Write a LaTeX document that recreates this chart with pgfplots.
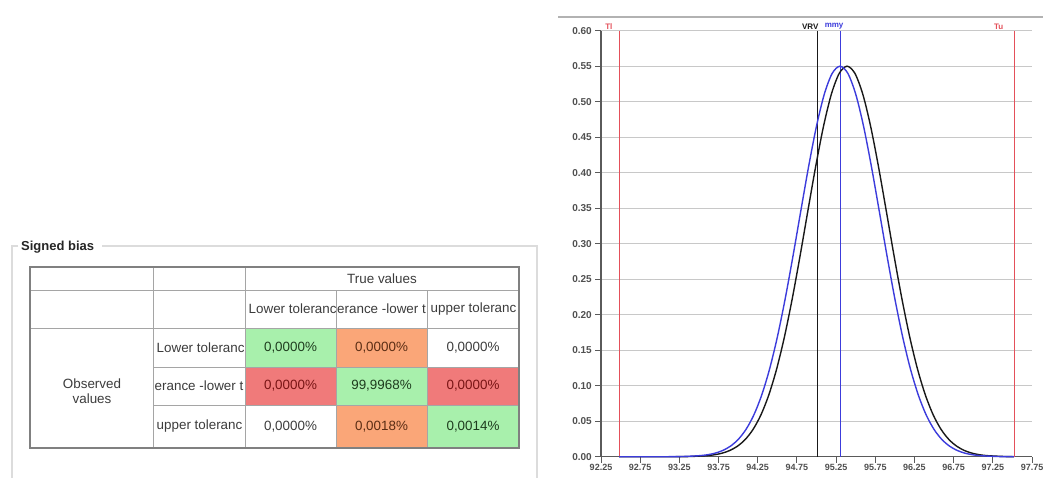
\documentclass[border=0pt]{standalone}
\usepackage{fontspec}
\setmainfont{Liberation Sans}
\usepackage{pgfplots}
\pgfplotsset{compat=1.18}

\definecolor{gridgray}{RGB}{200,200,200}
\definecolor{axisgray}{RGB}{90,90,90}
\definecolor{ticktext}{RGB}{80,80,80}
\definecolor{tolred}{RGB}{228,80,90}
\definecolor{curveblue}{RGB}{60,60,220}
\definecolor{curveblack}{RGB}{25,25,25}
\definecolor{cellgreen}{RGB}{168,240,172}
\definecolor{cellorange}{RGB}{250,166,120}
\definecolor{cellred}{RGB}{240,122,122}
\definecolor{txtgreen}{RGB}{30,60,30}
\definecolor{txtorange}{RGB}{90,45,20}
\definecolor{txtred}{RGB}{120,20,20}
\definecolor{txtgray}{RGB}{60,60,60}
\definecolor{tableline}{RGB}{165,165,165}
\definecolor{boxline}{RGB}{220,220,220}

\newcommand{\cellfont}{\fontsize{13.4}{15}\selectfont}

% filled table cell with centred, clipped text
\newcommand{\tcell}[7]{%
  \begin{scope}
    \fill[#5] (#1,#2) rectangle (#3,#4);
    \clip (#1,#2) rectangle (#3,#4);
    \node[text=#6, font=\cellfont, inner sep=0pt] at ({(#1+#3)/2},{(#2+#4)/2}) {#7};
  \end{scope}}
% table cell with left-aligned, clipped text
\newcommand{\lcell}[5]{%
  \begin{scope}
    \clip (#1,#2) rectangle (#3,#4);
    \node[text=txtgray, font=\cellfont, inner sep=0pt, anchor=west] at ({#1+3.5},{(#2+#4)/2}) {#5};
  \end{scope}}

% normal curve of the measured values (mean 95.30)
\pgfplotstableread{
x y
92.48 0
93.10 0
93.30 0.0003
93.50 0.0014
93.60 0.0026
93.70 0.0048
93.80 0.0086
93.90 0.0147
94.00 0.0242
94.10 0.0384
94.20 0.0587
94.30 0.0866
94.40 0.1230
94.50 0.1684
94.60 0.2223
94.70 0.2827
94.80 0.3464
94.90 0.4091
95.00 0.4657
95.10 0.5108
95.20 0.5399
95.30 0.5500
95.40 0.5399
95.50 0.5108
95.60 0.4657
95.70 0.4091
95.80 0.3464
95.90 0.2827
96.00 0.2223
96.10 0.1684
96.20 0.1230
96.30 0.0866
96.40 0.0587
96.50 0.0384
96.60 0.0242
96.70 0.0147
96.80 0.0086
96.90 0.0048
97.00 0.0026
97.10 0.0014
97.30 0.0003
97.50 0
97.52 0
}\bluecurve

% normal curve of the true values (mean 95.39)
\pgfplotstableread{
x y
92.48 0
93.19 0
93.39 0.0003
93.59 0.0014
93.69 0.0026
93.79 0.0048
93.89 0.0086
93.99 0.0147
94.09 0.0242
94.19 0.0384
94.29 0.0587
94.39 0.0866
94.49 0.1230
94.59 0.1684
94.69 0.2223
94.79 0.2827
94.89 0.3464
94.99 0.4091
95.09 0.4657
95.19 0.5108
95.29 0.5399
95.39 0.5500
95.49 0.5399
95.59 0.5108
95.69 0.4657
95.79 0.4091
95.89 0.3464
95.99 0.2827
96.09 0.2223
96.19 0.1684
96.29 0.1230
96.39 0.0866
96.49 0.0587
96.59 0.0384
96.69 0.0242
96.79 0.0147
96.89 0.0086
96.99 0.0048
97.09 0.0026
97.19 0.0014
97.39 0.0003
97.52 0
}\blackcurve

\begin{document}
\begin{tikzpicture}
\useasboundingbox (0,0) rectangle (1043pt,477pt);
\fill[white] (0,0) rectangle (1043pt,477pt);

% ---------- signed bias table (pixel grid, y downwards) ----------
\begin{scope}[yshift=477pt, x=1pt, y=-1pt]
  % group box
  \draw[boxline, line width=1.2pt] (18,246) -- (12,246) -- (12,478);
  \draw[boxline, line width=1.2pt] (102,246) -- (537,246) -- (537,478);
  \node[font=\fontsize{13}{15}\selectfont\bfseries, text=black!85, anchor=west, inner sep=0pt]
    at (21,247) {Signed bias};

  % coloured value cells
  \tcell{245}{328}{336}{367}{cellgreen}{txtgreen}{0,0000\%}
  \tcell{336}{328}{427}{367}{cellorange}{txtorange}{0,0000\%}
  \tcell{427}{328}{519}{367}{white}{txtgray}{0,0000\%}
  \tcell{245}{367}{336}{405}{cellred}{txtred}{0,0000\%}
  \tcell{336}{367}{427}{405}{cellgreen}{txtgreen}{99,9968\%}
  \tcell{427}{367}{519}{405}{cellred}{txtred}{0,0000\%}
  \tcell{245}{405}{336}{448}{white}{txtgray}{0,0000\%}
  \tcell{336}{405}{427}{448}{cellorange}{txtorange}{0,0018\%}
  \tcell{427}{405}{519}{448}{cellgreen}{txtgreen}{0,0014\%}

  % header texts
  \tcell{245}{267}{519}{290}{white}{txtgray}{True values}
  \lcell{245}{290}{336}{328}{Lower toleranc}
  \tcell{336}{290}{427}{328}{white}{txtgray}{erance -lower t}
  \lcell{427}{290}{519}{328}{upper toleranc}
  \lcell{153}{328}{245}{367}{Lower toleranc}
  \tcell{153}{367}{245}{405}{white}{txtgray}{erance -lower t}
  \lcell{153}{405}{245}{448}{upper toleranc}
  \node[text=txtgray, font=\cellfont, align=center, inner sep=0pt] at (92,391)
    {Observed\\[0pt]values};

  % grid lines
  \draw[tableline, line width=1pt]
    (153,267) -- (153,448)
    (245,267) -- (245,448)
    (336,290) -- (336,448)
    (427,290) -- (427,448)
    (30,290) -- (519,290)
    (30,328) -- (519,328)
    (153,367) -- (519,367)
    (153,405) -- (519,405);
  \draw[gray, line width=1.3pt] (30,267) rectangle (519,448);

  % panel border above the chart
  \draw[black!30, line width=1.2pt] (558,17) -- (1043,17);
\end{scope}

% ---------- distribution chart ----------
\begin{axis}[
  at={(601pt,20.3pt)}, anchor=south west,
  scale only axis, width=431pt, height=426pt,
  xmin=92.25, xmax=97.75, ymin=0, ymax=0.60,
  xtick={92.25,92.75,93.25,93.75,94.25,94.75,95.25,95.75,96.25,96.75,97.25,97.75},
  ytick={0,0.05,0.10,0.15,0.20,0.25,0.30,0.35,0.40,0.45,0.50,0.55,0.60},
  axis x line*=bottom, axis y line*=left,
  axis line style={axisgray, line width=1.2pt},
  ymajorgrids, major grid style={gridgray, line width=0.9pt},
  tick align=outside, major tick length=6pt,
  tick style={axisgray, line width=1pt},
  /pgf/number format/assume math mode=true,
  /pgf/number format/.cd, fixed, fixed zerofill, precision=2, /pgfplots/.cd,
  tick label style={font=\fontsize{10}{11}\selectfont\bfseries, text=ticktext},
  yticklabel style={inner sep=2pt, xshift=-1pt},
  xticklabel style={font=\fontsize{9}{10}\selectfont\bfseries, inner sep=1pt},
  clip=false,
]
  % tolerance limits, reference value and mean
  \addplot[tolred, line width=0.9pt] coordinates {(92.48,0) (92.48,0.60)};
  \addplot[tolred, line width=0.9pt] coordinates {(97.52,0) (97.52,0.60)};
  \addplot[curveblack, line width=0.8pt] coordinates {(95.01,0) (95.01,0.60)};
  \addplot[curveblue, line width=0.8pt] coordinates {(95.30,0) (95.30,0.60)};

  \addplot[curveblack, line width=1.4pt, smooth, tension=0.5] table[x=x, y=y] {\blackcurve};
  \addplot[curveblue, line width=1.4pt, smooth, tension=0.5] table[x=x, y=y] {\bluecurve};

  \node[anchor=south west, text=tolred, font=\fontsize{8}{9}\selectfont\bfseries, inner sep=1pt]
    at (axis cs:92.29,0.60) {Tl};
  \node[anchor=south west, text=tolred, font=\fontsize{8}{9}\selectfont\bfseries, inner sep=1pt]
    at (axis cs:97.25,0.60) {Tu};
  \node[anchor=south west, text=curveblack, font=\fontsize{8}{9}\selectfont\bfseries, inner sep=1pt]
    at (axis cs:94.80,0.60) {VRV};
  \node[anchor=south west, text=curveblue, font=\fontsize{8}{9}\selectfont\bfseries, inner sep=1pt]
    at (axis cs:95.09,0.60) {mmy};
\end{axis}
\end{tikzpicture}
\end{document}
